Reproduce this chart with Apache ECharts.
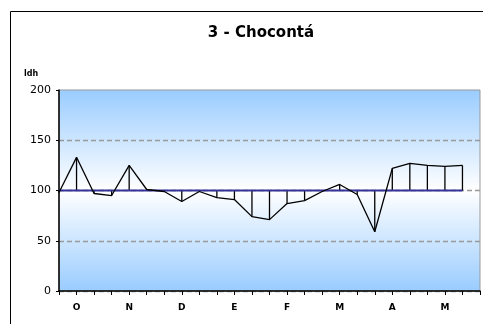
<!DOCTYPE html>
<html>
<head>
<meta charset="utf-8">
<script src="https://cdn.jsdelivr.net/npm/echarts@6/dist/echarts.min.js"></script>
<style>
  html, body { margin: 0; padding: 0; background: #fff; }
  #chart { width: 483px; height: 324px; }
</style>
</head>
<body>
<div id="chart"></div>
<script>
// etiquetas del eje x (una marca por década, mes cada 3)
const tickLabels = ['', 'O', '', '', 'N', '', '', 'D', '', '', 'E', '', '', 'F', '', '', 'M', '', '', 'A', '', '', 'M', '', '']
// caudal por década
const caudal = [98, 133, 97, 95, 125, 101, 99, 89, 99, 93, 91, 74, 71, 87, 90, 99, 106, 96, 59, 122, 127, 125, 124, 125]
// línea de referencia (100)
const referencia = [100, 100, 100, 100, 100, 100, 100, 100, 100, 100, 100, 100, 100, 100, 100, 100, 100, 100, 100, 100, 100, 100, 100, 100]
const yTicks = [0, 50, 100, 150, 200]

const chart = echarts.init(document.getElementById('chart'))
const font = 'DejaVu Sans'

const option = {
  animation: false,
  title: {
    text: '3 - Chocontá',
    left: 261,
    top: 26,
    textAlign: 'center',
    padding: 0,
    textStyle: { fontFamily: font, fontSize: 15, fontWeight: 'bold', color: '#000' }
  },
  graphic: [
    // borde exterior del gráfico
    {
      type: 'rect',
      shape: { x: 10.5, y: 11.5, width: 490, height: 330 },
      style: { fill: null, stroke: '#000', lineWidth: 1 },
      silent: true
    },
    {
      type: 'text',
      left: 24,
      top: 70,
      style: { text: 'ldh', fontFamily: font, fontSize: 8, fontWeight: 'bold', fill: '#000' }
    }
  ],
  grid: {
    left: 59,
    right: 2,
    top: 90,
    bottom: 33,
    show: true,
    borderColor: '#999',
    borderWidth: 1,
    backgroundColor: {
      type: 'linear', x: 0, y: 0, x2: 0, y2: 1,
      colorStops: [
        { offset: 0, color: '#99ccff' },
        { offset: 0.5, color: '#ffffff' },
        { offset: 1, color: '#99ccff' }
      ]
    }
  },
  xAxis: {
    type: 'category',
    data: tickLabels,
    boundaryGap: false,
    axisLine: { lineStyle: { color: '#000', width: 1.5 } },
    axisTick: { show: true, interval: 0, length: 4, lineStyle: { color: '#000' } },
    axisLabel: {
      interval: 0, margin: 12,
      fontFamily: font, fontSize: 9, fontWeight: 'bold', color: '#000'
    },
    splitLine: { show: false }
  },
  yAxis: {
    type: 'value',
    min: yTicks[0],
    max: yTicks[yTicks.length - 1],
    interval: 50,
    axisLine: { show: true, lineStyle: { color: '#000', width: 1.5 } },
    axisTick: { show: true, length: 3, lineStyle: { color: '#000' } },
    axisLabel: { margin: 8, fontFamily: font, fontSize: 11, color: '#000' },
    splitLine: {
      show: true,
      showMaxLine: false,
      lineStyle: { color: '#999', type: [5, 3], width: 1.3 }
    }
  },
  series: [
    {
      // líneas verticales entre el caudal y la referencia
      type: 'custom',
      silent: true,
      z: 2,
      data: caudal.map((v, i) => [i, v, referencia[i]]),
      renderItem: (params, api) => {
        const a = api.coord([api.value(0), api.value(1)])
        const b = api.coord([api.value(0), api.value(2)])
        return {
          type: 'line',
          shape: { x1: a[0], y1: a[1], x2: b[0], y2: b[1] },
          style: { stroke: '#000', lineWidth: 1.3 }
        }
      }
    },
    {
      type: 'line',
      data: referencia,
      z: 3,
      showSymbol: false,
      lineStyle: { color: '#333399', width: 2 }
    },
    {
      type: 'line',
      data: caudal,
      z: 4,
      showSymbol: false,
      lineStyle: { color: '#000', width: 1.3 }
    }
  ]
}

chart.setOption(option)
</script>
</body>
</html>
